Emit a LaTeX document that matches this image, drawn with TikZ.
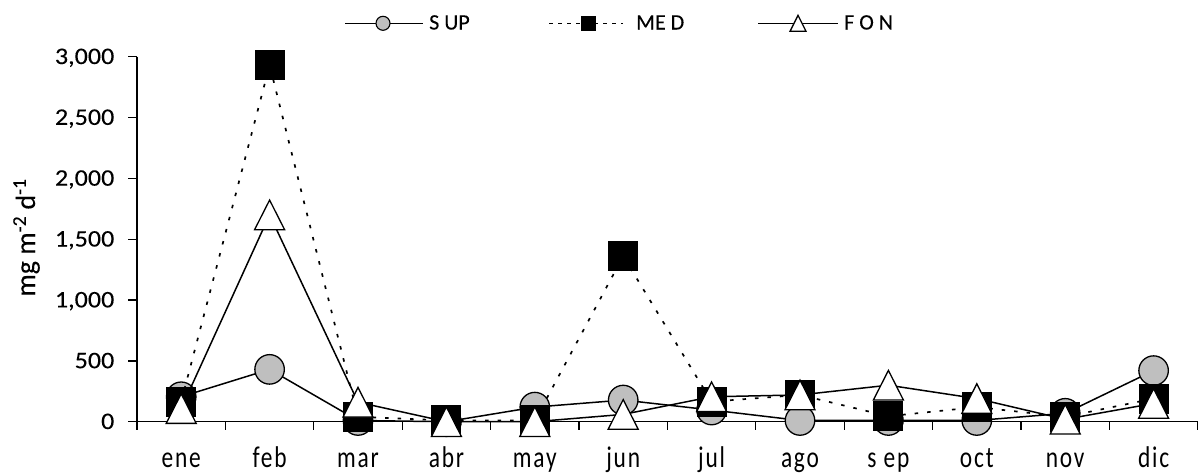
\documentclass[tikz,border=0pt]{standalone}
\usepackage{fontspec}
\setmainfont{Carlito}[FakeBold=0.15]
\newfontfamily\tickfont{Carlito}[FakeStretch=1.1, FakeBold=0.15]
\newfontfamily\monthfont{Carlito}[FakeStretch=0.78, LetterSpace=6]
\pgfdeclarelayer{sline}
\pgfdeclarelayer{smark}
\pgfdeclarelayer{mline}
\pgfdeclarelayer{mmark}
\pgfdeclarelayer{fline}
\pgfdeclarelayer{fmark}
\pgfsetlayers{main,sline,smark,mline,mmark,fline,fmark}
\tikzset{
  axisline/.style={line width=1.3pt, black},
  serline/.style={line width=1.5pt, black},
  dotline/.style={line width=1.7pt, black, dash pattern=on 3.5pt off 9pt},
  legdot/.style={line width=1.5pt, black, dash pattern=on 4pt off 5pt},
  circmark/.style={circle, draw=black, fill=gray!50, line width=1.3pt, minimum size=29.5pt, inner sep=0pt},
  sqmark/.style={rectangle, fill=black, minimum size=30pt, inner sep=0pt},
  trimark/.style={rectangle, inner sep=0pt, minimum width=37pt, minimum height=37pt,
    path picture={\draw[draw=black, fill=white, line width=1.3pt]
      ([shift={(0pt,14.8pt)}]path picture bounding box.center) --
      ([shift={(-15pt,-14.8pt)}]path picture bounding box.center) --
      ([shift={(15pt,-14.8pt)}]path picture bounding box.center) -- cycle;}},
  legtri/.style={rectangle, inner sep=0pt, minimum width=22pt, minimum height=22pt,
    path picture={\draw[draw=black, fill=white, line width=1.3pt]
      ([shift={(0pt,8pt)}]path picture bounding box.center) --
      ([shift={(-8pt,-8pt)}]path picture bounding box.center) --
      ([shift={(8pt,-8pt)}]path picture bounding box.center) -- cycle;}},
  ticklab/.style={anchor=base east, inner sep=0pt, font=\tickfont\fontsize{23.7}{28}\selectfont},
  monthlab/.style={anchor=base, inner sep=0pt, font=\monthfont\fontsize{30}{34}\selectfont},
  legtext/.style={anchor=base west, inner sep=0pt, font=\fontsize{22}{26}\selectfont},
}
\begin{document}
\begin{tikzpicture}[x=1pt, y=-1pt]
\useasboundingbox[fill=white] (0,0) rectangle (1203,474);

% axes
\coordinate (ytop) at (137,56.7);
\coordinate (origin) at (137,421.7);
\coordinate (xend) at (1198,421.7);
\draw[axisline] (ytop) -- (origin) -- (xend);
\foreach \k/\t in {0/0,1/500,2/{1,000},3/{1,500},4/{2,000},5/{2,500},6/{3,000}} {
  \coordinate (yt\k) at (137,{421.7-60.833*\k});
  \draw[axisline] (yt\k) -- ++(-9,0);
  \node[ticklab] (yl\k) at (114.5,{429-60.833*\k}) {\t};
}
\foreach \k in {0,...,12} {
  \coordinate (xt\k) at ({137+88.4*\k},421.7);
  \draw[axisline] (xt\k) -- ++(0,8.5);
}
\foreach \i/\t in {1/ene,2/feb,3/mar,4/abr,5/may,6/jun,7/jul,8/ago,9/s ep,10/oct,11/nov,12/dic} {
  \node[monthlab] (lab\i) at ({92.8+88.4*\i},467) {\t};
}
\node[rotate=90, anchor=base, inner sep=0pt, font=\fontsize{28}{32}\selectfont] (ylab) at (35,237.5) {mg m\textsuperscript{-2} d\textsuperscript{-1}};

% data
\begin{scope}[shift={(92.8pt,-421.7pt)}, x=88.4pt, y=0.12167pt]
  \begin{pgfonlayer}{smark}
    \foreach \i/\v in {1/205,2/430,3/10,4/0,5/120,6/178,7/96,8/10,9/10,10/10,11/69,12/420}
      \node[circmark] (s\i) at (\i,\v) {};
  \end{pgfonlayer}
  \begin{pgfonlayer}{sline}
    \draw[serline] (s1.center) \foreach \i in {2,...,12} {-- (s\i.center)};
  \end{pgfonlayer}
  \begin{pgfonlayer}{mmark}
    \foreach \i/\v in {1/165,2/2930,3/40,4/10,5/10,6/1360,7/165,8/220,9/45,10/120,11/40,12/190}
      \node[sqmark] (m\i) at (\i,\v) {};
  \end{pgfonlayer}
  \begin{pgfonlayer}{mline}
    \draw[dotline] (m1.center) \foreach \i in {2,...,12} {-- (m\i.center)};
  \end{pgfonlayer}
  \begin{pgfonlayer}{fmark}
    \foreach \i/\v in {1/108,2/1700,3/160,4/0,5/0,6/60,7/205,8/220,9/300,10/190,11/20,12/150}
      \node[trimark] (f\i) at (\i,\v) {};
  \end{pgfonlayer}
  \begin{pgfonlayer}{fline}
    \draw[serline] (f1.center) \foreach \i in {2,...,12} {-- (f\i.center)};
  \end{pgfonlayer}
\end{scope}

% legend
\coordinate (lsa) at (345,23.3);
\coordinate (lsb) at (423,23.3);
\draw[serline] (lsa) -- (lsb);
\node[circmark, minimum size=14pt, line width=1.1pt] (lsm) at (383,23.3) {};
\node[legtext] (lst) at (429,29.5) {S UP};

\coordinate (lma) at (549,23.3);
\coordinate (lmb) at (623,23.3);
\draw[legdot] (lma) -- (lmb);
\node[sqmark, minimum size=15pt] (lmm) at (588,23.3) {};
\node[legtext] (lmt) at (636,29.5) {ME D};

\coordinate (lfa) at (758,23.3);
\coordinate (lfb) at (838,23.3);
\draw[serline] (lfa) -- (lfb);
\node[legtri] (lfm) at (798,23.3) {};
\node[legtext] (lft) at (844,29.5) {F O N};
\end{tikzpicture}
\end{document}
